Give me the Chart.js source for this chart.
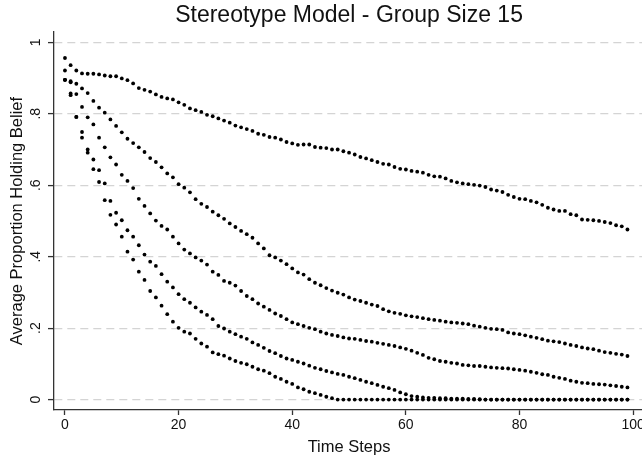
<!DOCTYPE html>
<html>
<head>
<meta charset="utf-8">
<script src="https://cdn.jsdelivr.net/npm/chart.js@4/dist/chart.umd.min.js"></script>
<style>
html,body{margin:0;padding:0;background:#fff;overflow:hidden;width:642px;height:463px;}
#wrap{position:relative;width:646px;height:463px;}
canvas{display:block;}
</style>
</head>
<body>
<div id="wrap"><canvas id="c" width="646" height="463"></canvas></div>
<script>
const timeSteps = [0,1,2,3,4,5,6,7,8,9,10,11,12,13,14,15,16,17,18,19,20,21,22,23,24,25,26,27,28,29,30,31,32,33,34,35,36,37,38,39,40,41,42,43,44,45,46,47,48,49,50,51,52,53,54,55,56,57,58,59,60,61,62,63,64,65,66,67,68,69,70,71,72,73,74,75,76,77,78,79,80,81,82,83,84,85,86,87,88,89,90,91,92,93,94,95,96,97,98,99];

const runA = [0.956,0.936,0.921,0.913,0.912,0.912,0.910,0.907,0.905,0.905,
0.899,0.894,0.885,0.872,0.867,0.862,0.854,0.847,0.843,0.840,
0.832,0.825,0.815,0.810,0.805,0.797,0.793,0.787,0.781,0.775,
0.767,0.762,0.757,0.752,0.744,0.741,0.735,0.733,0.728,0.721,
0.717,0.713,0.714,0.714,0.707,0.705,0.704,0.700,0.700,0.695,
0.691,0.686,0.679,0.675,0.670,0.665,0.660,0.658,0.651,0.646,
0.644,0.640,0.638,0.635,0.629,0.625,0.624,0.619,0.612,0.608,
0.605,0.603,0.601,0.599,0.595,0.588,0.585,0.581,0.573,0.567,
0.562,0.561,0.556,0.552,0.545,0.537,0.532,0.528,0.528,0.519,
0.516,0.504,0.503,0.502,0.500,0.497,0.494,0.488,0.485,0.476];

const runB = [0.921,0.891,0.884,0.871,0.858,0.836,0.817,0.803,0.784,0.766,
0.748,0.730,0.718,0.706,0.693,0.676,0.665,0.650,0.633,0.622,
0.603,0.593,0.580,0.561,0.548,0.539,0.526,0.516,0.506,0.493,
0.483,0.472,0.463,0.453,0.437,0.423,0.404,0.398,0.389,0.379,
0.367,0.356,0.350,0.337,0.327,0.320,0.312,0.305,0.299,0.294,
0.286,0.280,0.276,0.271,0.266,0.262,0.253,0.247,0.243,0.240,
0.236,0.233,0.231,0.228,0.225,0.223,0.221,0.218,0.216,0.215,
0.213,0.211,0.207,0.204,0.201,0.198,0.197,0.195,0.188,0.185,
0.183,0.180,0.176,0.173,0.169,0.165,0.163,0.161,0.157,0.153,
0.150,0.146,0.143,0.141,0.137,0.133,0.131,0.128,0.126,0.122];

const runC = [0.895,0.888,0.855,0.819,0.790,0.770,0.733,0.706,0.678,0.658,
0.629,0.612,0.592,0.562,0.542,0.521,0.501,0.486,0.476,0.456,
0.437,0.420,0.409,0.398,0.389,0.378,0.358,0.349,0.332,0.327,
0.319,0.304,0.290,0.281,0.269,0.260,0.251,0.241,0.234,0.225,
0.216,0.211,0.206,0.201,0.197,0.190,0.185,0.181,0.178,0.174,
0.171,0.170,0.167,0.164,0.162,0.159,0.156,0.153,0.150,0.146,
0.142,0.137,0.131,0.125,0.117,0.113,0.108,0.106,0.103,0.101,
0.097,0.096,0.094,0.094,0.092,0.090,0.089,0.088,0.087,0.085,
0.083,0.081,0.078,0.075,0.071,0.069,0.064,0.061,0.058,0.053,
0.050,0.047,0.046,0.044,0.043,0.042,0.040,0.038,0.036,0.034];

const runD = [0.895,0.852,0.791,0.749,0.700,0.672,0.642,0.605,0.556,0.523,
0.502,0.474,0.456,0.432,0.406,0.386,0.374,0.351,0.330,0.314,
0.295,0.281,0.271,0.258,0.246,0.237,0.225,0.206,0.199,0.190,
0.183,0.176,0.170,0.160,0.153,0.145,0.136,0.130,0.122,0.115,
0.111,0.106,0.101,0.095,0.089,0.085,0.080,0.076,0.072,0.069,
0.064,0.060,0.055,0.050,0.046,0.041,0.036,0.032,0.027,0.020,
0.015,0.010,0.008,0.006,0.005,0.005,0.004,0.004,0.003,0.003,
0.003,0.002,0.002,0.001,0,0,0,0,0,0,
0,0,0,0,0,0,0,0,0,0,
0,0,0,0,0,0,0,0,0,0];

const runE = [0.895,0.857,0.791,0.733,0.691,0.645,0.609,0.558,0.517,0.490,
0.456,0.414,0.392,0.358,0.335,0.304,0.286,0.263,0.239,0.218,
0.201,0.190,0.185,0.170,0.157,0.148,0.132,0.127,0.123,0.115,
0.108,0.103,0.099,0.092,0.085,0.081,0.074,0.064,0.058,0.050,
0.044,0.034,0.029,0.022,0.018,0.013,0.008,0.004,0,0,
0,0,0,0,0,0,0,0,0,0,
0,0,0,0,0,0,0,0,0,0,
0,0,0,0,0,0,0,0,0,0,
0,0,0,0,0,0,0,0,0,0,
0,0,0,0,0,0,0,0,0,0];

const xTickValues = [0, 20, 40, 60, 80, 100];
const xTickLabels = ['0', '20', '40', '60', '80', '100'];
const yTickValues = [0, 0.2, 0.4, 0.6, 0.8, 1];
const yTickLabels = ['0', '.2', '.4', '.6', '.8', '1'];

const chartTitle = 'Stereotype Model - Group Size 15';
const xTitle = 'Time Steps';
const yTitle = 'Average Proportion Holding Belief';

const FONT = '"Liberation Sans", Arial, Helvetica, sans-serif';
const runs = [runA, runB, runC, runD, runE];

const datasets = runs.map(r => ({
  data: timeSteps.map((t, i) => ({x: t, y: r[i]})),
  showLine: false,
  pointRadius: 1.9,
  pointHoverRadius: 1.9,
  pointBackgroundColor: '#000',
  pointBorderWidth: 0,
  pointBorderColor: '#000'
}));

new Chart(document.getElementById('c').getContext('2d'), {
  type: 'scatter',
  data: {datasets},
  options: {
    responsive: false,
    animation: false,
    devicePixelRatio: 1,
    layout: {padding: 0},
    plugins: {
      legend: {display: false},
      tooltip: {enabled: false},
      title: {
        display: true, text: chartTitle, fullSize: false,
        font: {family: FONT, size: 23, weight: 'normal'},
        color: '#111', padding: {top: 1.5, bottom: 2.9}
      }
    },
    scales: {
      x: {
        type: 'linear', min: -1.93, max: 101.93,
        afterBuildTicks: s => { s.ticks = xTickValues.map(v => ({value: v})); },
        ticks: {
          callback: (v, i) => xTickLabels[i],
          font: {family: FONT, size: 14}, color: '#111',
          padding: 2, maxRotation: 0, minRotation: 0, autoSkip: false
        },
        grid: {drawOnChartArea: false, drawTicks: true, tickLength: 5, tickColor: '#333', tickWidth: 1.3},
        border: {display: true, color: '#333', width: 1.3},
        title: {display: true, text: xTitle, font: {family: FONT, size: 16.5}, color: '#111', padding: {top: 0, bottom: 6}},
        afterFit: s => { s.height = 53; s.paddingLeft = 0; s.paddingRight = 0; }
      },
      y: {
        type: 'linear', min: -0.0291, max: 1.0288,
        afterBuildTicks: s => { s.ticks = yTickValues.map(v => ({value: v})); },
        ticks: {
          callback: (v, i) => yTickLabels[i],
          font: {family: FONT, size: 14}, color: '#111',
          padding: 6, minRotation: 90, maxRotation: 90, crossAlign: 'center', autoSkip: false
        },
        grid: {drawOnChartArea: true, color: '#d4d4d4', lineWidth: 1.2, drawTicks: true, tickLength: 6, tickColor: '#333', tickWidth: 1.3, tickBorderDash: []},
        border: {display: true, color: '#333', width: 1.3, dash: [8, 5]},
        title: {display: true, text: yTitle, font: {family: FONT, size: 16.5}, color: '#111', padding: {top: 7.5, bottom: 0}},
        afterFit: s => { s.width = 54; s.paddingTop = 0; s.paddingBottom = 0; }
      }
    }
  }
});
</script>
</body>
</html>
